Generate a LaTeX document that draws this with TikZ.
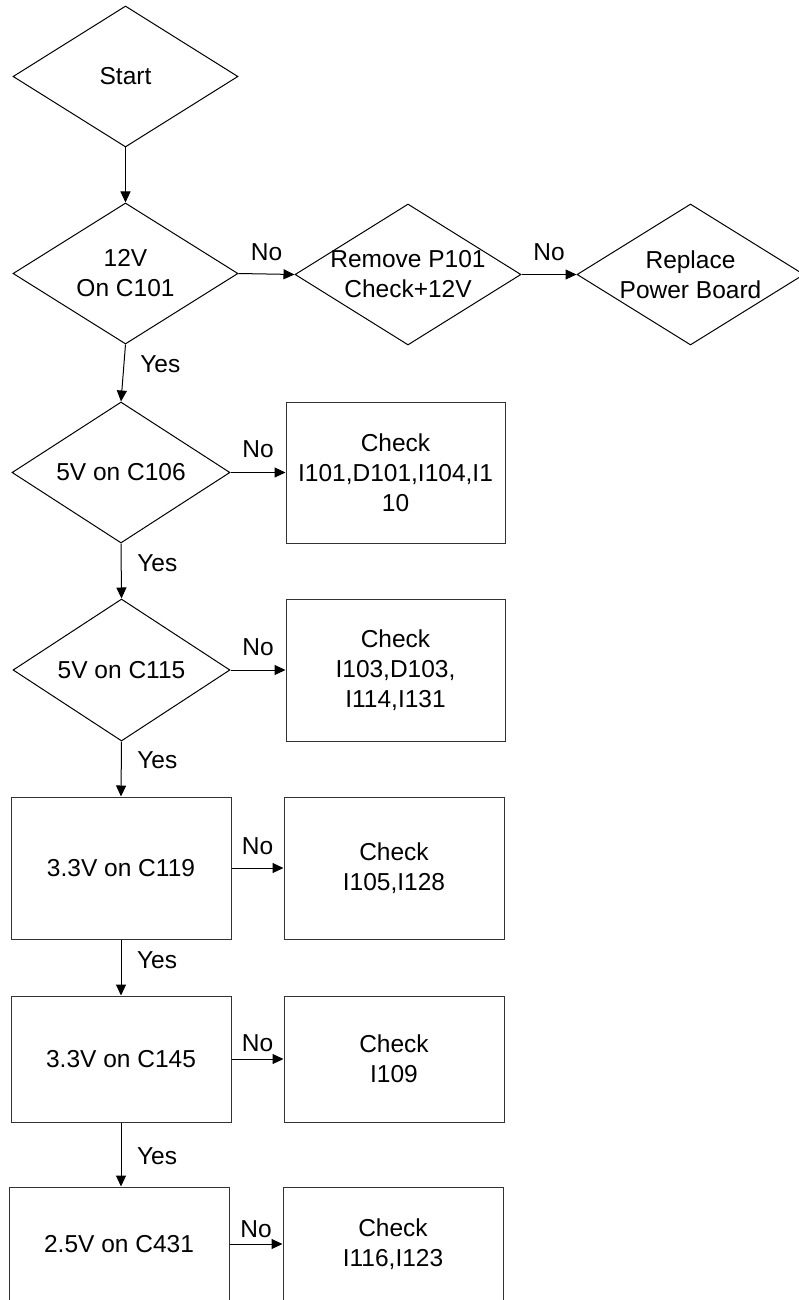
\documentclass[tikz,border=0pt]{standalone}
\usepackage{fontspec}
\setmainfont{Liberation Sans}
\usetikzlibrary{shapes.geometric,arrows.meta}
\begin{document}
\begin{tikzpicture}[x=1pt,y=-1pt, line width=1pt,
  font=\fontsize{24.5}{30}\selectfont,
  dia/.style={draw=black, shape=diamond, inner sep=0pt, minimum width=225pt, minimum height=141pt},
  box/.style={draw=black!80, rectangle, inner sep=0pt, align=center, minimum width=220pt, minimum height=142pt},
  arr/.style={draw=black, -{Triangle[length=11pt,width=10pt]}},
  lbl/.style={inner sep=0pt}]
\useasboundingbox (0,0) rectangle (798,1300);
\fill[white] (0,0) rectangle (798,1300);

% decisions
\node[dia, label={[align=center]center:Start}] (start) at (125.5,76.5) {};
\node[dia, label={[align=center]center:12V\\On C101}] (c101) at (125.5,273.5) {};
\node[dia, minimum width=226pt, label={[align=center]center:Remove P101\\Check+12V}] (p101) at (408,274.5) {};
\node[dia, minimum width=227pt, label={[align=center]center:Replace\\Power Board}] (rep) at (690.5,274.5) {};
\node[dia, minimum width=218pt, label={[align=center]center:5V on C106}] (c106) at (121,472.5) {};
\node[dia, minimum width=217pt, minimum height=142pt, label={[align=center]center:5V on C115}] (c115) at (121.5,670) {};

% boxes
\node[box, minimum width=219pt, minimum height=141pt] (k1) at (395.5,472.5) {Check\\I101,D101,I104,I1\\10};
\node[box, minimum width=219pt] (k2) at (395.5,670) {Check\\I103,D103,\\I114,I131};
\node[box] (c119) at (121,868) {3.3V on C119};
\node[box] (k3) at (394,868) {Check\\I105,I128};
\node[box, minimum height=126pt] (c145) at (121,1059) {3.3V on C145};
\node[box, minimum height=126pt] (k4) at (394,1059) {Check\\I109};
\node[box, minimum height=114pt] (c431) at (119,1244) {2.5V on C431};
\node[box, minimum height=114pt] (k5) at (393,1244) {Check\\I116,I123};

% connectors
\draw[arr] (start.south) -- (c101.north);
\draw[arr] (c101.east) -- node[lbl, yshift=22pt]{No} (p101.west);
\draw[arr] (p101.east) -- node[lbl, yshift=22pt]{No} (rep.west);
\draw[arr] (c101.south) -- node[lbl, xshift=37pt, yshift=9pt]{Yes} (c106.north);
\draw[arr] (c106.east) -- node[lbl, yshift=23pt]{No} (k1.west);
\draw[arr] (c106.south) -- node[lbl, xshift=36pt, yshift=8pt]{Yes} (c115.north);
\draw[arr] (c115.east) -- node[lbl, yshift=23pt]{No} (k2.west);
\draw[arr] (c115.south) -- node[lbl, xshift=36pt, yshift=9pt]{Yes} (c119.north);
\draw[arr] (c119.east) -- node[lbl, yshift=22pt]{No} (k3.west);
\draw[arr] (c119.south) -- node[lbl, xshift=36pt, yshift=7pt]{Yes} (c145.north);
\draw[arr] (c145.east) -- node[lbl, yshift=16pt]{No} (k4.west);
\draw[arr] (c145.south) -- node[lbl, xshift=36pt, yshift=-2pt]{Yes} (c145.south |- c431.north);
\draw[arr] (c431.east) -- node[lbl, yshift=15pt]{No} (k5.west);
\end{tikzpicture}
\end{document}
